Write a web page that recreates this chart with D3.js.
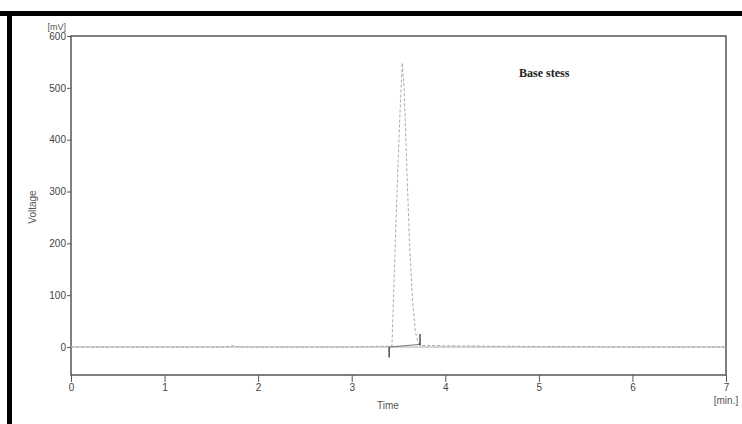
<!DOCTYPE html>
<html>
<head>
<meta charset="utf-8">
<script src="https://cdn.jsdelivr.net/npm/d3@7"></script>
<style>
  body { margin: 0; background: #fff; }
  svg { display: block; }
  .tick text { font-family: "Liberation Sans", Arial, sans-serif; font-size: 10px; fill: #444; }
</style>
</head>
<body>
<script>
// chromatogram trace (time in min, voltage in mV)
var time    = [0, 1.6, 1.70, 1.73, 1.76, 1.85, 2.4, 3.0, 3.43, 3.46, 3.49, 3.52, 3.54, 3.56, 3.59, 3.62, 3.65, 3.68, 3.71, 3.75, 4.2, 5.0, 6.0, 7.0]
var voltage = [0, 0,   1,    3,    1,    0,    0,   0,   2,    170,  330,  470,  548,  500,  340,  190,  90,   30,   8,    3,    2,   1,   0,   0]
// integration baseline under the peak
var baseTime    = [3.40, 3.73]
var baseVoltage = [0, 5]
// peak start / end markers: [time, from, to]
var markerTime = [3.40, 3.73]
var markerFrom = [0, 3]
var markerTo   = [-20, 25]
var xTicks = [0, 1, 2, 3, 4, 5, 6, 7]
var yTicks = [0, 100, 200, 300, 400, 500, 600]

var width = 742, height = 424
var margin = {top: 36, right: 16, bottom: 49, left: 71}

var svg = d3.select("body").append("svg")
    .attr("width", width)
    .attr("height", height)

// black frame strokes (top and left edges)
svg.append("rect").attr("x", 0).attr("y", 11).attr("width", width).attr("height", 5).attr("fill", "#000")
svg.append("rect").attr("x", 7).attr("y", 11).attr("width", 5).attr("height", height - 11).attr("fill", "#000")

var x = d3.scaleLinear().domain([0, 7]).range([margin.left, width - margin.right])
var y = d3.scaleLinear().domain([-54, 600]).range([height - margin.bottom, margin.top])

// plot box
svg.append("rect")
    .attr("x", x(0)).attr("y", y(600))
    .attr("width", x(7) - x(0)).attr("height", y(-54) - y(600))
    .attr("fill", "none").attr("stroke", "#555").attr("stroke-width", 1.5)

svg.append("g")
    .attr("transform", "translate(0," + y(-54) + ")")
    .call(d3.axisBottom(x).tickValues(xTicks).tickSize(7).tickPadding(2).tickFormat(d3.format("d")))
    .call(function (g) { g.select(".domain").remove() })
    .call(function (g) { g.selectAll("line").attr("stroke", "#555") })

svg.append("g")
    .attr("transform", "translate(" + x(0) + ",0)")
    .call(d3.axisLeft(y).tickValues(yTicks).tickSize(4).tickPadding(1).tickFormat(d3.format("d")))
    .call(function (g) { g.select(".domain").remove() })
    .call(function (g) { g.selectAll("line").attr("stroke", "#555") })

// baseline at zero
svg.append("line")
    .attr("x1", x(0)).attr("x2", x(7))
    .attr("y1", y(0)).attr("y2", y(0))
    .attr("stroke", "#aaa").attr("stroke-width", 1)

var line = d3.line().x(function (d) { return x(d[0]) }).y(function (d) { return y(d[1]) })

svg.append("path")
    .datum(d3.zip(time, voltage))
    .attr("d", line)
    .attr("fill", "none")
    .attr("stroke", "#aaa")
    .attr("stroke-width", 1)
    .attr("stroke-dasharray", "3,2")

svg.append("path")
    .datum(d3.zip(baseTime, baseVoltage))
    .attr("d", line)
    .attr("fill", "none")
    .attr("stroke", "#777")
    .attr("stroke-width", 1)

svg.selectAll(".marker")
    .data(markerTime)
    .enter().append("line")
    .attr("class", "marker")
    .attr("x1", function (d) { return x(d) }).attr("x2", function (d) { return x(d) })
    .attr("y1", function (d, i) { return y(markerFrom[i]) })
    .attr("y2", function (d, i) { return y(markerTo[i]) })
    .attr("stroke", "#333").attr("stroke-width", 1.3)

var sans = "Liberation Sans, Arial, sans-serif"

svg.append("text")
    .attr("x", 66).attr("y", 30)
    .attr("text-anchor", "end")
    .attr("font-family", sans).attr("font-size", 9).attr("fill", "#555")
    .text("[mV]")

svg.append("text")
    .attr("transform", "translate(36,207) rotate(-90)")
    .attr("text-anchor", "middle")
    .attr("font-family", sans).attr("font-size", 10).attr("fill", "#555")
    .text("Voltage")

svg.append("text")
    .attr("x", 388).attr("y", 409)
    .attr("text-anchor", "middle")
    .attr("font-family", sans).attr("font-size", 10).attr("fill", "#555")
    .text("Time")

svg.append("text")
    .attr("x", 726).attr("y", 404)
    .attr("text-anchor", "middle")
    .attr("font-family", sans).attr("font-size", 10).attr("fill", "#555")
    .text("[min.]")

svg.append("text")
    .attr("x", 519).attr("y", 77)
    .attr("font-family", "Liberation Serif, Times New Roman, serif")
    .attr("font-weight", "bold").attr("font-size", 12).attr("fill", "#222")
    .text("Base stess")
</script>
</body>
</html>
